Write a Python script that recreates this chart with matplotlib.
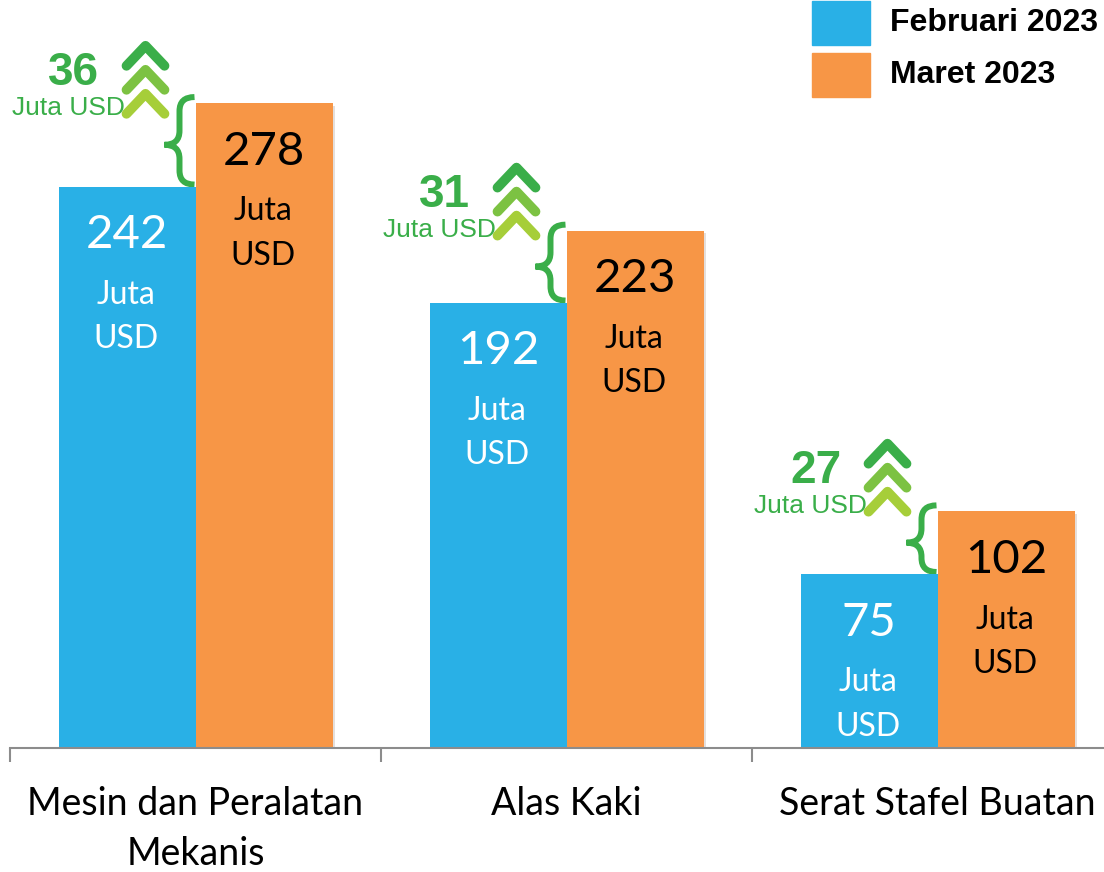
import numpy as np
import matplotlib
matplotlib.use("Agg")
from matplotlib import pyplot as plt
from matplotlib.path import Path
from matplotlib.patches import PathPatch, Rectangle
import matplotlib.patheffects as pe

categories = ["Mesin dan Peralatan\nMekanis", "Alas Kaki", "Serat Stafel Buatan"]
feb_2023 = [242, 192, 75]
mar_2023 = [278, 223, 102]
series_names = ["Februari 2023", "Maret 2023"]
unit = "Juta USD"

blue = "#29b0e6"
orange = "#f79646"
green = "#3aae49"
chev_colors = ["#3aae49", "#7cc242", "#a6ce39"]

W, H = 1104, 872
fig = plt.figure(figsize=(W / 100, H / 100), dpi=100)
# axes: left edge 10px, baseline 748px from top, each group 371px wide
ax = fig.add_axes([10 / W, (H - 748) / H, 1113 / W, 748 / H])
px_x = 371.0          # pixels per category
px_y = 2.32           # pixels per million USD
ax.set_xlim(-0.5, 2.5)
ax.set_ylim(0, 748 / px_y)

x = np.arange(len(categories))
w = 137 / px_x
shadow = [pe.SimplePatchShadow(offset=(2, -2), alpha=0.15), pe.Normal()]
b1 = ax.bar(x - w / 2, feb_2023, w, color=blue, zorder=2)
b2 = ax.bar(x + w / 2, mar_2023, w, color=orange, zorder=2)
for p in list(b1) + list(b2):
    p.set_path_effects(shadow)

for s in ["top", "right", "left"]:
    ax.spines[s].set_visible(False)
ax.spines["bottom"].set_color("#8c8c8c")
ax.spines["bottom"].set_linewidth(1.5)
ax.set_yticks([])
ax.set_xticks(np.arange(-0.5, len(categories), 1.0))
ax.set_xticklabels([])
ax.tick_params(axis="x", length=10, width=1.5, color="#8c8c8c", direction="out")

num_font = "Lato"
for i, cat in enumerate(categories):
    ax.annotate(cat, (x[i], 0), xytext=(0, -27), textcoords="offset points",
                ha="center", va="top", fontsize=27, family=num_font,
                linespacing=1.5, annotation_clip=False)

def bar_text(xc, v, col):
    ax.annotate(str(v), (xc, v), xytext=(0, -35), textcoords="offset points",
                ha="center", va="center", fontsize=34, color=col, family=num_font)
    ax.annotate("Juta", (xc, v), xytext=(-1, -78), textcoords="offset points",
                ha="center", va="center", fontsize=23, color=col, family=num_font)
    ax.annotate("USD", (xc, v), xytext=(-1, -110), textcoords="offset points",
                ha="center", va="center", fontsize=23, color=col, family=num_font)

for i in range(len(categories)):
    bar_text(x[i] - w / 2, feb_2023[i], "white")
    bar_text(x[i] + w / 2, mar_2023[i], "black")

# increase annotations
for i in range(len(categories)):
    b, o = feb_2023[i], mar_2023[i]
    mid = (b + o) / 2
    diff = o - b
    xc = x[i]
    pt = 0.72  # points per pixel
    ax.annotate(str(diff), (xc, mid), xytext=(-122 * pt, 72 * pt), textcoords="offset points",
                ha="center", va="center", fontsize=33, fontweight="bold", color=green,
                family="Liberation Sans")
    ax.annotate(unit, (xc, mid), xytext=(-71 * pt, 37 * pt), textcoords="offset points",
                ha="right", va="center", fontsize=19, color=green, family="Liberation Sans")
    # chevrons
    cx = xc - 50 / px_x
    hw = 19 / px_x
    for k, col in enumerate(chev_colors):
        peak = mid + (99 - 24 * k) / px_y
        drop = 20 / px_y
        ax.plot([cx - hw, cx, cx + hw], [peak - drop, peak, peak - drop], color=col,
                lw=7, solid_capstyle="round", solid_joinstyle="round", zorder=3)
    # brace
    xe = xc - 1 / px_x
    xv = xc - 16 / px_x
    xt = xc - 31 / px_x
    r = 14 / px_y
    top = o + 6 / px_y
    bot = b + 2 / px_y
    verts = [(xe, top), (xv, top), (xv, top - r),
             (xv, mid + r), (xv, mid), (xt, mid),
             (xv, mid), (xv, mid - r),
             (xv, bot + r), (xv, bot), (xe, bot)]
    codes = [Path.MOVETO, Path.CURVE3, Path.CURVE3,
             Path.LINETO, Path.CURVE3, Path.CURVE3,
             Path.CURVE3, Path.CURVE3,
             Path.LINETO, Path.CURVE3, Path.CURVE3]
    ax.add_patch(PathPatch(Path(verts, codes), fill=False, edgecolor=green, lw=4.3,
                           capstyle="butt", zorder=1))

# legend
for k, (name, col) in enumerate(zip(series_names, [blue, orange])):
    y0 = [45, 97][k]
    fig.add_artist(Rectangle((812 / W, 1 - y0 / H), 58 / W, 44 / H, color=col,
                             transform=fig.transFigure))
    fig.text(890 / W, 1 - [23, 75][k] / H, name, ha="left", va="center", fontsize=23,
             fontweight="bold", family="Liberation Sans")

fig.savefig("out.png", dpi=100)
